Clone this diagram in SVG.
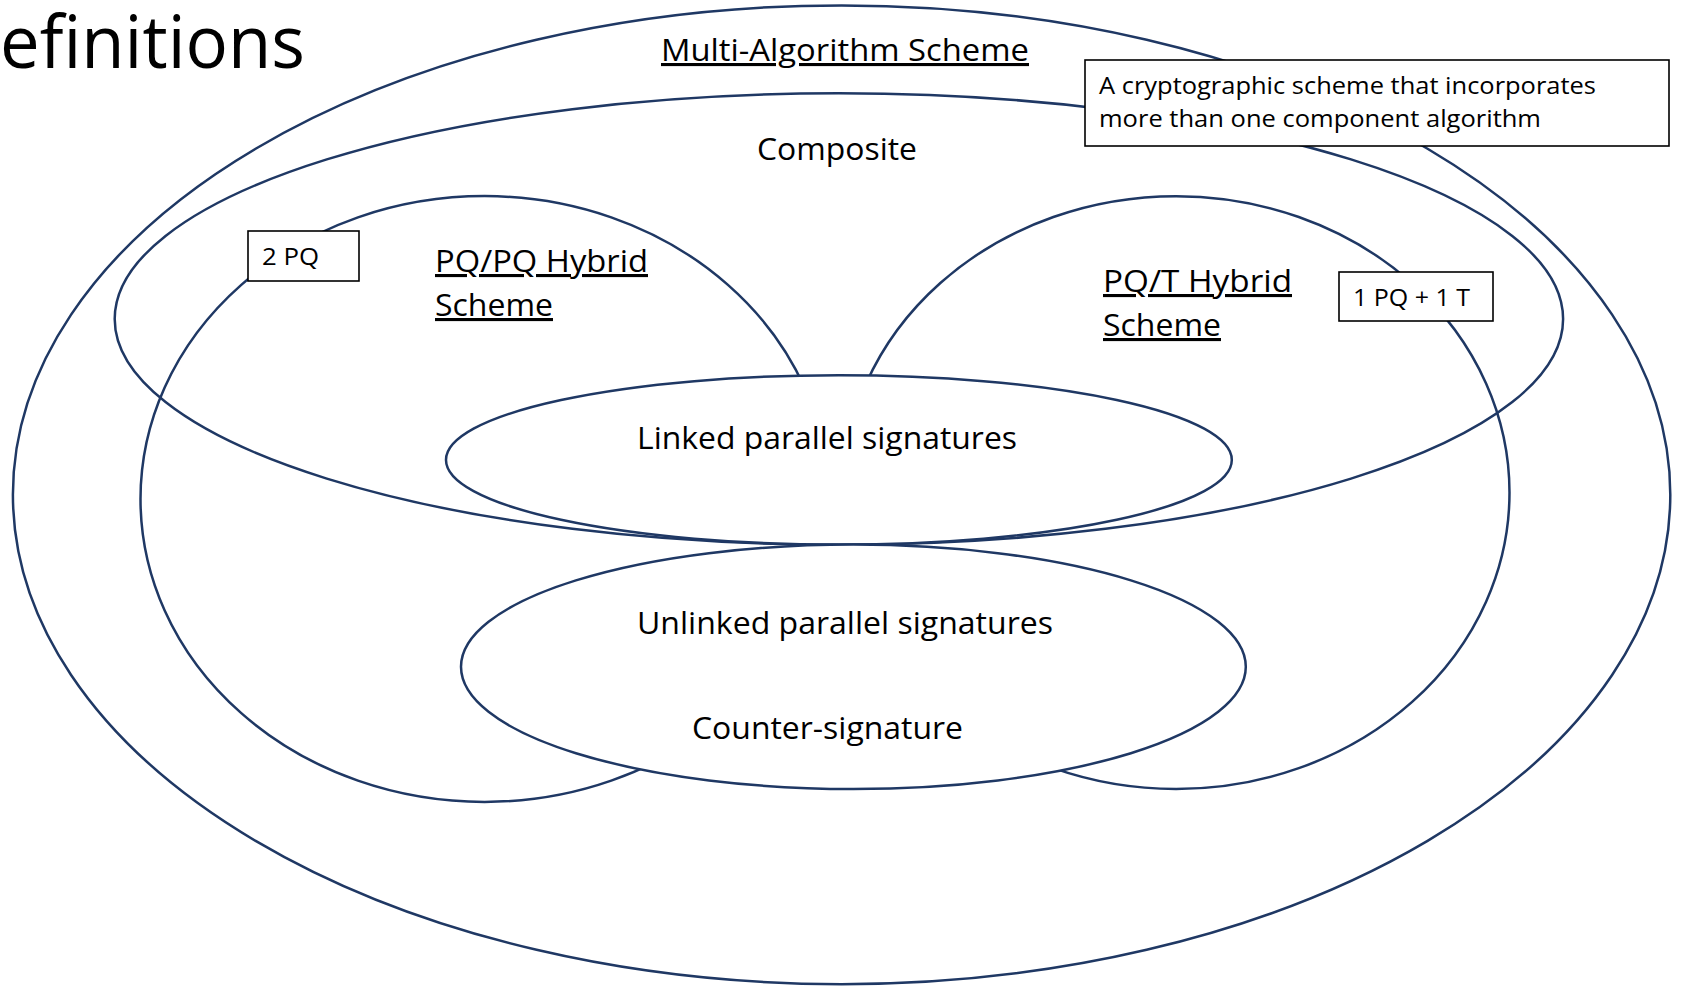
<svg xmlns="http://www.w3.org/2000/svg" width="1681" height="986" viewBox="0 0 1681 986">
<style>
.ring{fill:none;stroke:#1F3864;stroke-width:2.5}
.solid{fill:#fff;stroke:#1F3864;stroke-width:2.5}
.box{fill:#fff;stroke:#000;stroke-width:1.6}
text{font-family:"Open Sans","Noto Sans","Liberation Sans",sans-serif;fill:#000}
.lbl{font-size:31px}
.u{text-decoration:underline}
.sm{font-size:24px}
</style>
<rect width="1681" height="986" fill="#fff"/>
<text x="0" y="68" font-size="73" textLength="305" lengthAdjust="spacingAndGlyphs">efinitions</text>
<g id="multi-algorithm">
<ellipse class="solid" cx="841.6" cy="494.8" rx="828.7" ry="489.4"/>
<text class="lbl u" x="661" y="61" textLength="368" lengthAdjust="spacingAndGlyphs">Multi-Algorithm Scheme</text>
</g>
<g id="composite">
<ellipse class="ring" cx="838.9" cy="319" rx="724.2" ry="225.7"/>
<text class="lbl" x="757" y="160" textLength="160" lengthAdjust="spacingAndGlyphs">Composite</text>
</g>
<g id="pqpq-hybrid">
<ellipse class="ring" cx="484.6" cy="499" rx="344.1" ry="302.9"/>
<text class="lbl u" x="435" y="272" textLength="213" lengthAdjust="spacingAndGlyphs">PQ/PQ Hybrid</text>
<text class="lbl u" x="435" y="316" textLength="118" lengthAdjust="spacingAndGlyphs">Scheme</text>
</g>
<g id="pqt-hybrid">
<ellipse class="ring" cx="1176.1" cy="492.6" rx="333.4" ry="296.4"/>
<text class="lbl u" x="1103" y="292" textLength="189" lengthAdjust="spacingAndGlyphs">PQ/T Hybrid</text>
<text class="lbl u" x="1103" y="336" textLength="118" lengthAdjust="spacingAndGlyphs">Scheme</text>
</g>
<g id="linked">
<ellipse class="solid" cx="838.9" cy="459.9" rx="392.9" ry="84.7"/>
<text class="lbl" x="637" y="449" textLength="380" lengthAdjust="spacingAndGlyphs">Linked parallel signatures</text>
</g>
<g id="unlinked">
<ellipse class="solid" cx="853.4" cy="666.8" rx="392.4" ry="122.2"/>
<text class="lbl" x="637" y="634" textLength="416" lengthAdjust="spacingAndGlyphs">Unlinked parallel signatures</text>
<text class="lbl" x="692" y="739" textLength="271" lengthAdjust="spacingAndGlyphs">Counter-signature</text>
</g>
<g id="note-2pq">
<rect class="box" x="248" y="231" width="111" height="50"/>
<text class="sm" x="262" y="265" textLength="57" lengthAdjust="spacingAndGlyphs">2 PQ</text>
</g>
<g id="note-1pq1t">
<rect class="box" x="1339" y="272" width="154" height="49"/>
<text class="sm" x="1353" y="306" textLength="117" lengthAdjust="spacingAndGlyphs">1 PQ + 1 T</text>
</g>
<g id="note-definition">
<rect class="box" x="1085" y="60" width="584" height="86"/>
<text class="sm" x="1099" y="94" textLength="497" lengthAdjust="spacingAndGlyphs">A cryptographic scheme that incorporates</text>
<text class="sm" x="1099" y="127" textLength="442" lengthAdjust="spacingAndGlyphs">more than one component algorithm</text>
</g>
<g id="connectors"></g>
</svg>
